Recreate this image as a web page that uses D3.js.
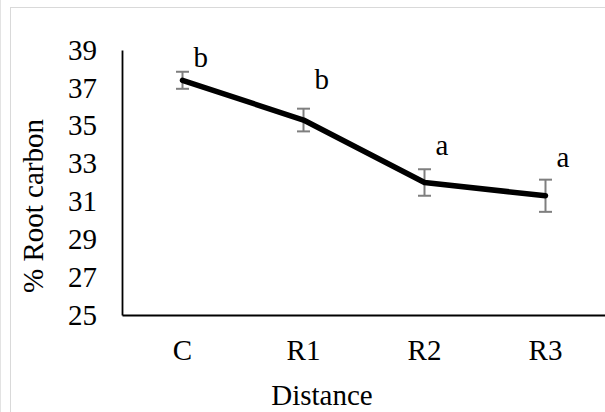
<!DOCTYPE html>
<html>
<head>
<meta charset="utf-8">
<script src="https://cdn.jsdelivr.net/npm/d3@7"></script>
<style>
  body { margin: 0; background: #fff; }
  text { font-family: "Liberation Serif", "Times New Roman", serif; fill: #000; }
</style>
</head>
<body>
<svg id="chart" width="605" height="412"></svg>
<script>
var categories = ["C", "R1", "R2", "R3"];
var rootCarbon = [37.4, 35.3, 32.0, 31.3];
var errors = [0.45, 0.6, 0.7, 0.85];
var letters = ["b", "b", "a", "a"];
var yTicks = [25, 27, 29, 31, 33, 35, 37, 39];

// label nudges (px), placed like the hand-moved excel labels
var labelDy = [-5, -20, -14, -13];

var fontSize = 29;

var svg = d3.select("#chart"),
    margin = {top: 50, right: -1, bottom: 97, left: 122},
    width = +svg.attr("width") - margin.left - margin.right,
    height = +svg.attr("height") - margin.top - margin.bottom;

// chart frame
svg.append("rect")
    .attr("x", 10.5).attr("y", 7.5)
    .attr("width", 700).attr("height", 500)
    .attr("fill", "#fff")
    .attr("stroke", "#d9d9d9");
svg.append("line")
    .attr("x1", 0.5).attr("x2", 0.5).attr("y1", 0).attr("y2", 412)
    .attr("stroke", "#e3e3e3");

var x = d3.scaleBand()
    .domain(categories)
    .range([0, width]);

var y = d3.scaleLinear()
    .domain([25, 39])
    .range([height, 0]);

var g = svg.append("g")
    .attr("transform", "translate(" + margin.left + "," + margin.top + ")");

var xAxis = g.append("g")
    .attr("transform", "translate(0," + height + ")")
    .call(d3.axisBottom(x).tickSize(0).tickPadding(24));
xAxis.select(".domain").attr("stroke", "#000").attr("stroke-width", 1.8);
xAxis.selectAll("text").attr("font-size", fontSize).attr("font-family", "Liberation Serif");

var yAxis = g.append("g")
    .call(d3.axisLeft(y).tickValues(yTicks).tickSize(0).tickPadding(25));
yAxis.select(".domain").attr("stroke", "#000").attr("stroke-width", 1.8);
yAxis.selectAll("text").attr("font-size", fontSize).attr("font-family", "Liberation Serif");

var cx = function(d, i) { return x(categories[i]) + x.bandwidth() / 2; };

// error bars
var eb = g.append("g").attr("stroke", "#7f7f7f").attr("stroke-width", 2);
rootCarbon.forEach(function(v, i) {
  var px = x(categories[i]) + x.bandwidth() / 2;
  eb.append("line").attr("x1", px).attr("x2", px)
    .attr("y1", y(v + errors[i])).attr("y2", y(v - errors[i]));
  eb.append("line").attr("x1", px - 6.5).attr("x2", px + 6.5)
    .attr("y1", y(v + errors[i])).attr("y2", y(v + errors[i]));
  eb.append("line").attr("x1", px - 6.5).attr("x2", px + 6.5)
    .attr("y1", y(v - errors[i])).attr("y2", y(v - errors[i]));
});

var line = d3.line()
    .x(cx)
    .y(function(d) { return y(d); });

g.append("path")
    .datum(rootCarbon)
    .attr("d", line)
    .attr("fill", "none")
    .attr("stroke", "#000")
    .attr("stroke-width", 5.5)
    .attr("stroke-linecap", "round")
    .attr("stroke-linejoin", "round");

g.selectAll(".letter")
    .data(letters)
    .enter().append("text")
    .attr("class", "letter")
    .attr("x", function(d, i) { return cx(d, i) + 11; })
    .attr("y", function(d, i) { return y(rootCarbon[i] + errors[i]) + labelDy[i]; })
    .attr("font-size", fontSize)
    .text(function(d) { return d; });

svg.append("text")
    .attr("x", 322).attr("y", 405)
    .attr("text-anchor", "middle")
    .attr("font-size", fontSize)
    .text("Distance");

svg.append("text")
    .attr("transform", "translate(43,206) rotate(-90)")
    .attr("text-anchor", "middle")
    .attr("font-size", fontSize)
    .text("% Root carbon");
</script>
</body>
</html>
